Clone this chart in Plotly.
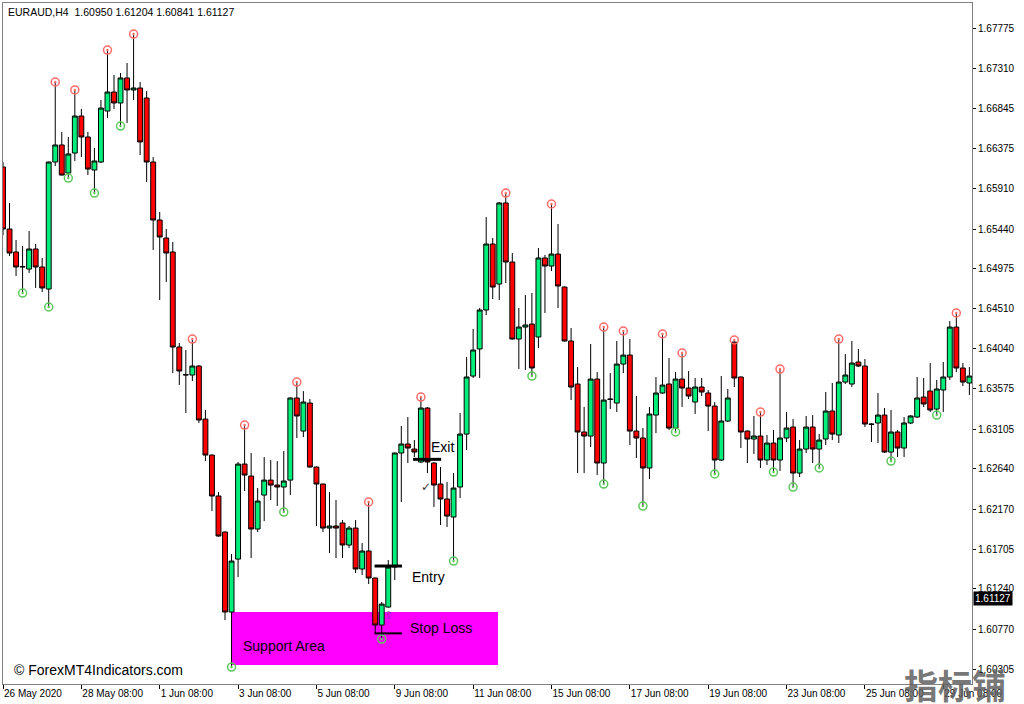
import plotly.graph_objects as go

# ---------------- data (EURAUD H4) ----------------
opens = [1.66164, 1.65440, 1.65172, 1.64997, 1.64973, 1.65207, 1.64997, 1.64740, 1.66222, 1.66421,
         1.66094, 1.66327, 1.66759, 1.66514, 1.66129, 1.66222, 1.66817, 1.67039, 1.66911, 1.67203,
         1.67063, 1.67086, 1.66969, 1.66222, 1.65545, 1.65335, 1.65172, 1.64063, 1.63736, 1.63736,
         1.63841, 1.63222, 1.62802, 1.62324, 1.61904, 1.60970, 1.61588, 1.62697, 1.62557, 1.61939,
         1.62335, 1.62510, 1.62452, 1.62429, 1.62510, 1.63468, 1.63082, 1.63409, 1.62662, 1.62464,
         1.61950, 1.61974, 1.62009, 1.61752, 1.61950, 1.61472, 1.61682, 1.61367, 1.60818, 1.61028,
         1.61495, 1.62826, 1.62931, 1.62872, 1.62721, 1.63351, 1.62709, 1.62464, 1.62289, 1.62079,
         1.62429, 1.63047, 1.63724, 1.64040, 1.64495, 1.65265, 1.64798, 1.65744, 1.65055, 1.64156,
         1.64296, 1.64331, 1.64180, 1.65102, 1.65008, 1.65148, 1.64763, 1.64133, 1.63631, 1.63071,
         1.63024, 1.63689, 1.62709, 1.63456, 1.63409, 1.63864, 1.63969, 1.63082, 1.63001, 1.62651,
         1.63269, 1.63526, 1.63631, 1.63117, 1.63689, 1.63584, 1.63421, 1.63596, 1.63526, 1.63374,
         1.62744, 1.63199, 1.64120, 1.63713, 1.63082, 1.62989, 1.63024, 1.62744, 1.62942, 1.62744,
         1.63001, 1.63129, 1.62592, 1.62872, 1.63129, 1.62872, 1.62989, 1.63316, 1.63036, 1.63654,
         1.63631, 1.63888, 1.63841, 1.63164, 1.63176, 1.63269, 1.62837, 1.63071, 1.62884, 1.63176,
         1.63246, 1.63479, 1.63549, 1.63339, 1.63561, 1.63713, 1.64296, 1.63818, 1.63643]

highs = [1.66222, 1.65744, 1.65312, 1.65242, 1.65417, 1.65265, 1.65102, 1.66228, 1.67156, 1.66572,
         1.66514, 1.67063, 1.66841, 1.66572, 1.66386, 1.66946, 1.67529, 1.67238, 1.67261, 1.67378,
         1.67716, 1.67156, 1.67051, 1.66280, 1.65639, 1.65440, 1.65288, 1.64110, 1.64028, 1.64156,
         1.63853, 1.63328, 1.62808, 1.62370, 1.61910, 1.61647, 1.62721, 1.63152, 1.62826, 1.62417,
         1.62779, 1.62744, 1.62732, 1.62849, 1.63474, 1.63654, 1.63549, 1.63456, 1.62668, 1.62470,
         1.62370, 1.62277, 1.62044, 1.61974, 1.62044, 1.61775, 1.62254, 1.61372, 1.61087, 1.61577,
         1.62832, 1.63141, 1.63246, 1.62977, 1.63479, 1.63363, 1.62721, 1.62662, 1.62487, 1.62592,
         1.63293, 1.63946, 1.64273, 1.64518, 1.65580, 1.65335, 1.65755, 1.65860, 1.65160, 1.64518,
         1.64670, 1.64693, 1.65218, 1.65137, 1.65732, 1.65499, 1.64770, 1.64285, 1.63829, 1.63363,
         1.64098, 1.63771, 1.64296, 1.63759, 1.64133, 1.64250, 1.64156, 1.63491, 1.63117, 1.63363,
         1.63713, 1.64215, 1.63934, 1.63771, 1.63993, 1.63783, 1.63701, 1.63701, 1.63561, 1.63421,
         1.63724, 1.63573, 1.64145, 1.63720, 1.63090, 1.63258, 1.63304, 1.63036, 1.63094, 1.63806,
         1.63304, 1.63222, 1.62977, 1.63258, 1.63269, 1.63047, 1.63538, 1.63643, 1.64156, 1.63981,
         1.64133, 1.64040, 1.63923, 1.63176, 1.63526, 1.63351, 1.63328, 1.63094, 1.63246, 1.63269,
         1.63713, 1.63701, 1.63876, 1.63678, 1.63888, 1.64366, 1.64460, 1.63876, 1.63829]

lows = [1.65370, 1.65125, 1.64892, 1.64693, 1.64927, 1.64752, 1.64705, 1.64530, 1.66175, 1.66065,
        1.66035, 1.66234, 1.66280, 1.66070, 1.65860, 1.66210, 1.66736, 1.66841, 1.66642, 1.66677,
        1.66946, 1.66304, 1.65989, 1.65195, 1.64611, 1.64822, 1.63759, 1.63619, 1.63293, 1.63666,
        1.63176, 1.62732, 1.62149, 1.61850, 1.60876, 1.60328, 1.61378, 1.62382, 1.61600, 1.61904,
        1.62032, 1.62277, 1.62207, 1.62137, 1.62335, 1.63001, 1.63012, 1.62655, 1.61974, 1.61904,
        1.61658, 1.61600, 1.61600, 1.61717, 1.61425, 1.61402, 1.61297, 1.60725, 1.60655, 1.61020,
        1.61343, 1.62254, 1.62709, 1.62779, 1.62709, 1.62592, 1.62195, 1.61985, 1.61962, 1.61565,
        1.62300, 1.62861, 1.63701, 1.63701, 1.64436, 1.64623, 1.64611, 1.64810, 1.64150, 1.63806,
        1.63794, 1.63724, 1.64051, 1.64460, 1.64950, 1.64518, 1.64128, 1.63444, 1.62592, 1.62592,
        1.62896, 1.62569, 1.62464, 1.63339, 1.63304, 1.63759, 1.62919, 1.62767, 1.62207, 1.62522,
        1.63059, 1.63514, 1.63094, 1.63071, 1.63363, 1.63456, 1.63281, 1.63491, 1.63082, 1.62581,
        1.62732, 1.63187, 1.63596, 1.62884, 1.62709, 1.62814, 1.62651, 1.62686, 1.62604, 1.62616,
        1.62954, 1.62429, 1.62546, 1.62826, 1.62709, 1.62651, 1.62919, 1.62977, 1.62942, 1.63631,
        1.63596, 1.63829, 1.63129, 1.62954, 1.62942, 1.62826, 1.62732, 1.62779, 1.62779, 1.63164,
        1.63234, 1.63363, 1.63304, 1.63269, 1.63304, 1.63678, 1.63771, 1.63608, 1.63503]

closes = [1.65440, 1.65160, 1.64997, 1.65001, 1.65207, 1.64997, 1.64752, 1.66222, 1.66421, 1.66070,
          1.66316, 1.66759, 1.66514, 1.66140, 1.66234, 1.66852, 1.67039, 1.66911, 1.67203, 1.67063,
          1.67086, 1.66456, 1.66222, 1.65545, 1.65347, 1.65160, 1.64063, 1.63783, 1.63740, 1.63841,
          1.63211, 1.62802, 1.62324, 1.61857, 1.60970, 1.61565, 1.62697, 1.62569, 1.61939, 1.62265,
          1.62510, 1.62452, 1.62429, 1.62499, 1.63468, 1.63258, 1.63421, 1.62662, 1.62464, 1.61950,
          1.61974, 1.61950, 1.61752, 1.61950, 1.61472, 1.61682, 1.61367, 1.60818, 1.61063, 1.61495,
          1.62826, 1.62931, 1.62884, 1.62837, 1.63351, 1.62721, 1.62452, 1.62289, 1.62090, 1.62417,
          1.63047, 1.63713, 1.64028, 1.64495, 1.65265, 1.64763, 1.65744, 1.65055, 1.64156, 1.64296,
          1.64320, 1.63818, 1.65102, 1.65008, 1.65148, 1.64775, 1.64133, 1.63596, 1.63071, 1.63024,
          1.63689, 1.62709, 1.63444, 1.63452, 1.63864, 1.63969, 1.63082, 1.63001, 1.62651, 1.63281,
          1.63526, 1.63619, 1.63117, 1.63689, 1.63584, 1.63491, 1.63596, 1.63538, 1.63374, 1.62744,
          1.63199, 1.63468, 1.63701, 1.63071, 1.62989, 1.63024, 1.62744, 1.62942, 1.62744, 1.63001,
          1.63117, 1.62592, 1.62872, 1.63129, 1.62872, 1.62977, 1.63316, 1.63047, 1.63654, 1.63736,
          1.63876, 1.63841, 1.63164, 1.63160, 1.63269, 1.62837, 1.63071, 1.62884, 1.63176, 1.63258,
          1.63468, 1.63398, 1.63328, 1.63573, 1.63713, 1.64296, 1.63818, 1.63654, 1.63724]

up_fractals = [8, 11, 16, 20, 29, 37, 45, 56, 64, 77, 84, 92, 95, 101, 104, 112, 116, 119, 128, 146]
down_fractals = [3, 7, 10, 14, 18, 35, 43, 58, 69, 81, 92, 98, 103, 109, 118, 121, 125, 136, 143]

date_tick_bars = [0, 12, 24, 36, 48, 60, 72, 84, 96, 108, 120, 132, 144]
date_tick_labels = ["26 May 2020", "28 May 08:00", "1 Jun 08:00", "3 Jun 08:00", "5 Jun 08:00",
                    "9 Jun 08:00", "11 Jun 08:00", "15 Jun 08:00", "17 Jun 08:00", "19 Jun 08:00",
                    "23 Jun 08:00", "25 Jun 08:00", "29 Jun 08:00"]

price_ticks = [1.67775, 1.67310, 1.66845, 1.66375, 1.65910, 1.65440, 1.64975, 1.64510, 1.64040,
               1.63575, 1.63105, 1.62640, 1.62170, 1.61705, 1.61240, 1.60770, 1.60305]
price_tick_labels = ["%.5f" % v for v in price_ticks]

support_zone = dict(bar_start=35.0, bar_end=75.8, low=1.60353, high=1.60970)
entry_price = 1.61507
stop_price = 1.60721
exit_price = 1.62752
entry_bars = (56.9, 61.1)
exit_bars = (62.8, 67.1)
last_price = 1.61127

# ---------------- figure ----------------
bars = list(range(len(opens)))
fig = go.Figure()

fig.add_trace(go.Candlestick(
    x=bars, open=opens, high=highs, low=lows, close=closes,
    increasing=dict(fillcolor="#00EE7A", line=dict(color="black", width=1)),
    decreasing=dict(fillcolor="#FF0000", line=dict(color="black", width=1)),
    whiskerwidth=0, hoverinfo="skip", showlegend=False,
))

fig.add_trace(go.Scatter(
    x=up_fractals, y=[highs[i] for i in up_fractals], mode="markers",
    marker=dict(symbol="circle-open-dot", size=8, color="#FF6A6A", line=dict(width=1.5)),
    hoverinfo="skip", showlegend=False,
))
fig.add_trace(go.Scatter(
    x=down_fractals, y=[lows[i] for i in down_fractals], mode="markers",
    marker=dict(symbol="circle-open-dot", size=8, color="#5CC85C", line=dict(width=1.5)),
    hoverinfo="skip", showlegend=False,
))

shapes = [
    dict(type="rect", xref="x", yref="y", layer="below",
         x0=support_zone["bar_start"], x1=support_zone["bar_end"],
         y0=support_zone["low"], y1=support_zone["high"],
         fillcolor="#FF00FF", line=dict(width=0)),
    dict(type="line", xref="x", yref="y", x0=entry_bars[0], x1=entry_bars[1],
         y0=entry_price, y1=entry_price, line=dict(color="black", width=3)),
    dict(type="line", xref="x", yref="y", x0=entry_bars[0], x1=entry_bars[1],
         y0=stop_price, y1=stop_price, line=dict(color="black", width=2)),
    dict(type="line", xref="x", yref="y", x0=exit_bars[0], x1=exit_bars[1],
         y0=exit_price, y1=exit_price, line=dict(color="black", width=3)),
]

txt = dict(family="Liberation Sans, Arial, sans-serif", size=14, color="black")
annotations = [
    dict(x=62.3, y=1.61378, xref="x", yref="y", text="Entry", showarrow=False,
         xanchor="left", yanchor="middle", font=txt),
    dict(x=62.0, y=1.60783, xref="x", yref="y", text="Stop Loss", showarrow=False,
         xanchor="left", yanchor="middle", font=txt),
    dict(x=65.2, y=1.62896, xref="x", yref="y", text="Exit", showarrow=False,
         xanchor="left", yanchor="middle", font=txt),
    dict(x=36.4, y=1.60573, xref="x", yref="y", text="Support Area", showarrow=False,
         xanchor="left", yanchor="middle", font=txt),
    dict(x=64.8, y=1.62429, xref="x", yref="y", text="✓", showarrow=False,
         xanchor="center", yanchor="middle",
         font=dict(family="DejaVu Sans", size=12, color="#333333")),
    dict(x=59.0, y=1.60935, xref="x", yref="y", text="⇧", showarrow=False,
         xanchor="center", yanchor="middle",
         font=dict(family="DejaVu Sans", size=11, color="#7a3a9a")),
    dict(x=0.003, y=0.987, xref="paper", yref="paper",
         text="EURAUD,H4  1.60950 1.61204 1.60841 1.61127", showarrow=False,
         xanchor="left", yanchor="middle",
         font=dict(family="Liberation Sans, Arial, sans-serif", size=10.5, color="black")),
    dict(x=0.0093, y=0.0206, xref="paper", yref="paper",
         text="© ForexMT4Indicators.com", showarrow=False,
         xanchor="left", yanchor="middle", font=txt),
    dict(x=1.0, y=last_price, xref="paper", yref="y", text="%.5f" % last_price,
         showarrow=False, xanchor="left", yanchor="middle", xshift=1,
         bgcolor="black", borderpad=1,
         font=dict(family="Liberation Sans, Arial, sans-serif", size=10, color="white")),
    dict(x=0.982, y=0.0, xref="paper", yref="paper", text="<b>指标铺</b>",
         showarrow=False, xanchor="center", yanchor="middle",
         font=dict(family="Noto Sans CJK SC", size=34, color="rgba(95,95,95,0.85)")),
]

fig.update_layout(
    width=1024, height=704,
    margin=dict(l=3, r=52, t=3, b=20, autoexpand=False),
    paper_bgcolor="white", plot_bgcolor="white",
    showlegend=False,
    boxgap=0.25, boxgroupgap=0,
    shapes=shapes, annotations=annotations,
    xaxis=dict(
        range=[0, 148.4], rangeslider=dict(visible=False),
        showgrid=False, zeroline=False, automargin=False,
        showline=True, linecolor="#808080", linewidth=1, mirror=True,
        ticks="outside", ticklen=4, tickcolor="black",
        tickvals=date_tick_bars, ticktext=date_tick_labels,
        ticklabelposition="outside right",
        tickfont=dict(family="Liberation Sans, Arial, sans-serif", size=10, color="black"),
    ),
    yaxis=dict(
        side="right", range=[1.60130, 1.68078],
        showgrid=False, zeroline=False, automargin=False,
        showline=True, linecolor="#808080", linewidth=1, mirror=True,
        ticks="outside", ticklen=3, tickcolor="black",
        tickvals=price_ticks, ticktext=price_tick_labels,
        tickfont=dict(family="Liberation Sans, Arial, sans-serif", size=10, color="black"),
    ),
)

fig.write_html(
    "out.html",
    config={"displayModeBar": False},
    post_script="document.body.style.margin='0';document.body.style.overflow='hidden';",
)
